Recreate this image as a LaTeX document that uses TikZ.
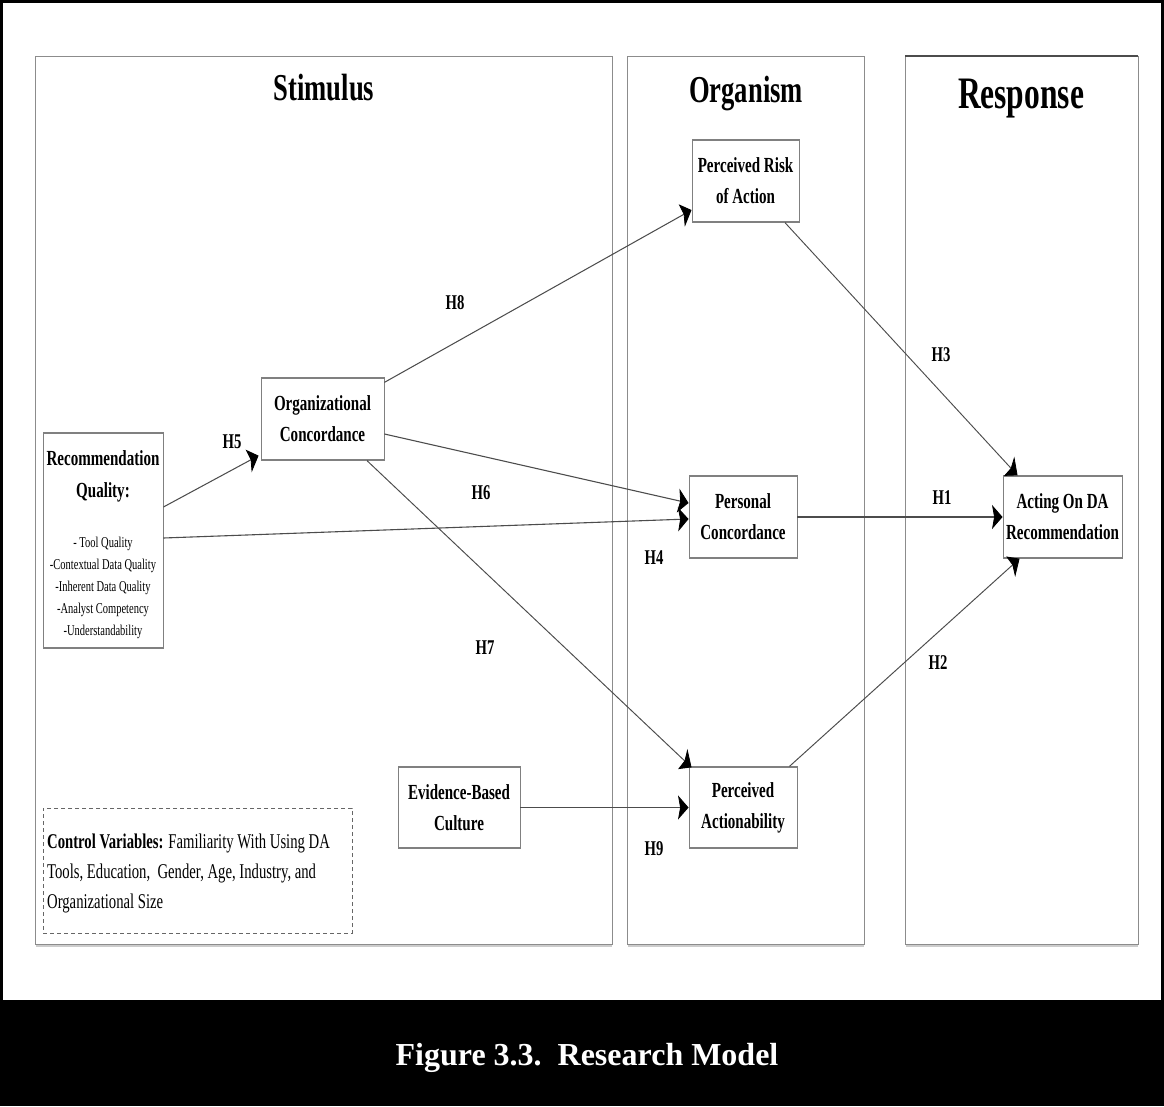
\documentclass[tikz,border=0pt]{standalone}
\usepackage{fontspec}
\setmainfont{Liberation Serif}
\usetikzlibrary{arrows.meta,calc}
\begin{document}
\begin{tikzpicture}[x=1pt,y=-1pt,
  panel/.style={draw=black!45, line width=1pt},
  box/.style={draw=black!50, line width=1.3pt, inner sep=0pt},
  boxtxt/.style={font=\bfseries\fontsize{21.5}{31}\selectfont, align=center},
  rqhead/.style={font=\bfseries\fontsize{21.5}{26}\selectfont, anchor=base, inner sep=0pt},
  rqitem/.style={font=\fontsize{15}{18}\selectfont, anchor=base, inner sep=0pt},
  ctrl/.style={font=\fontsize{21}{25}\selectfont, anchor=base west, inner sep=0pt},
  title/.style={font=\bfseries\fontsize{38}{44}\selectfont, anchor=base, inner sep=0pt},
  hlab/.style={font=\bfseries\fontsize{21}{25}\selectfont, inner sep=0pt},
  conn/.style={draw=black!70, line width=1.1pt,
    -{Stealth[length=15pt,width=24pt,inset=3pt,color=black]}}]
\useasboundingbox (0,0) rectangle (1164,1106);
\fill[white] (0,0) rectangle (1164,1106);

% outer frame and caption band
\fill[black] (0,0) rectangle (1164,3);
\fill[black] (0,0) rectangle (3,1106);
\fill[black] (1161,0) rectangle (1164,1106);
\fill[black] (0,1000) rectangle (1164,1106);
\node[font=\bfseries\fontsize{32}{38}\selectfont, text=white, anchor=base, inner sep=0pt]
  (caption) at (587,1065) {Figure 3.3.\ \ Research Model};

% the three panels
\draw[panel] (35,56) rectangle (612,944);
\draw[panel] (627,56) rectangle (864,944);
\draw[panel] (905,56) rectangle (1138,944);
\draw[black!70, line width=1.5pt] (905,56) -- (1138,56);
\foreach \a/\b in {35/612, 627/864, 905/1138}
  \draw[black!20, line width=2pt] (\a+1,946) -- (\b,946);

% control variables box
\node[draw=black!60, line width=1pt, dash pattern=on 4pt off 3pt,
  minimum width=309pt, minimum height=125pt, inner sep=0pt] (cv) at (197.5,870.5) {};

% condensed diagram layer
\begin{scope}[transform canvas={xscale=0.7}, x=1.428571pt]
  \node[title] (tstim) at (324,100) {Stimulus};
  \node[title] (torg) at (746,102) {Organism};
  \node[title, font=\bfseries\fontsize{45}{52}\selectfont] (tresp) at (1021,108) {Response};

  % recommendation quality
  \node[box, minimum width=171.4pt, minimum height=215pt] (rq) at (103,540.5) {};
  \node[rqhead] (rqa) at (103,465) {Recommendation};
  \node[rqhead] (rqb) at (103,497) {Quality:};
  \node[rqitem] (rq1) at (103,547) {- Tool Quality};
  \node[rqitem] (rq2) at (103,569) {-Contextual Data Quality};
  \node[rqitem] (rq3) at (103,591) {-Inherent Data Quality};
  \node[rqitem] (rq4) at (103,613) {-Analyst Competency};
  \node[rqitem] (rq5) at (103,635) {-Understandability};

  % constructs
  \node[box, boxtxt, minimum width=175.7pt, minimum height=82pt] (oc) at (322.5,419) {Organizational\\Concordance};
  \node[box, boxtxt, minimum width=152.9pt, minimum height=82pt] (pr) at (745.5,181) {Perceived Risk\\of Action};
  \node[box, boxtxt, minimum width=154.3pt, minimum height=82pt] (pc) at (743,517) {Personal\\Concordance};
  \node[box, boxtxt, minimum width=170pt, minimum height=82pt] (ada) at (1062.5,517) {Acting On DA\\Recommendation};
  \node[box, boxtxt, minimum width=174.3pt, minimum height=81pt] (ebc) at (459,807.5) {Evidence-Based\\Culture};
  \node[box, boxtxt, minimum width=154.3pt, minimum height=81pt] (pa) at (743,807.5) {Perceived\\Actionability};

  % control variables text
  \node[ctrl] (cv1) at (47,848) {\textbf{Control Variables:} Familiarity With Using DA};
  \node[ctrl] (cv2) at (47,878) {Tools, Education,\ \ Gender, Age, Industry, and};
  \node[ctrl] (cv3) at (47,908) {Organizational Size};

  % hypothesised paths
  \draw[conn] ($(rq.east)+(0,-33.5)$) -- ($(oc.south west)+(-2,-5)$);
  \draw[conn] ($(rq.east)+(0,-2.5)$) -- ($(pc.west)+(0,2)$);
  \draw[conn] ($(oc.north east)+(0,5)$) -- ($(pr.west)+(0,29)$);
  \draw[conn] ($(oc.east)+(0,15)$) -- ($(pc.west)+(0,-14)$);
  \draw[conn] ($(oc.south)+(44.5,0)$) -- ($(pa.north west)+(3,1)$);
  \draw[conn] (ebc.east) -- (pa.west);
  \draw[conn] ($(pr.south)+(39.5,0)$) -- ($(ada.north west)+(15,0)$);
  \draw[conn] (pc.east) -- (ada.west);
  \draw[conn] ($(pa.north east)+(-8,0)$) -- ($(ada.south west)+(17,0)$);

  % path labels
  \node[hlab] (h5) at (232,442) {H5};
  \node[hlab] (h8) at (455,303) {H8};
  \node[hlab] (h6) at (481,493) {H6};
  \node[hlab] (h4) at (654,558) {H4};
  \node[hlab] (h7) at (485,648) {H7};
  \node[hlab] (h9) at (654,849) {H9};
  \node[hlab] (h3) at (941,355) {H3};
  \node[hlab] (h1) at (942,498) {H1};
  \node[hlab] (h2) at (938,663) {H2};
\end{scope}
\end{tikzpicture}
\end{document}
